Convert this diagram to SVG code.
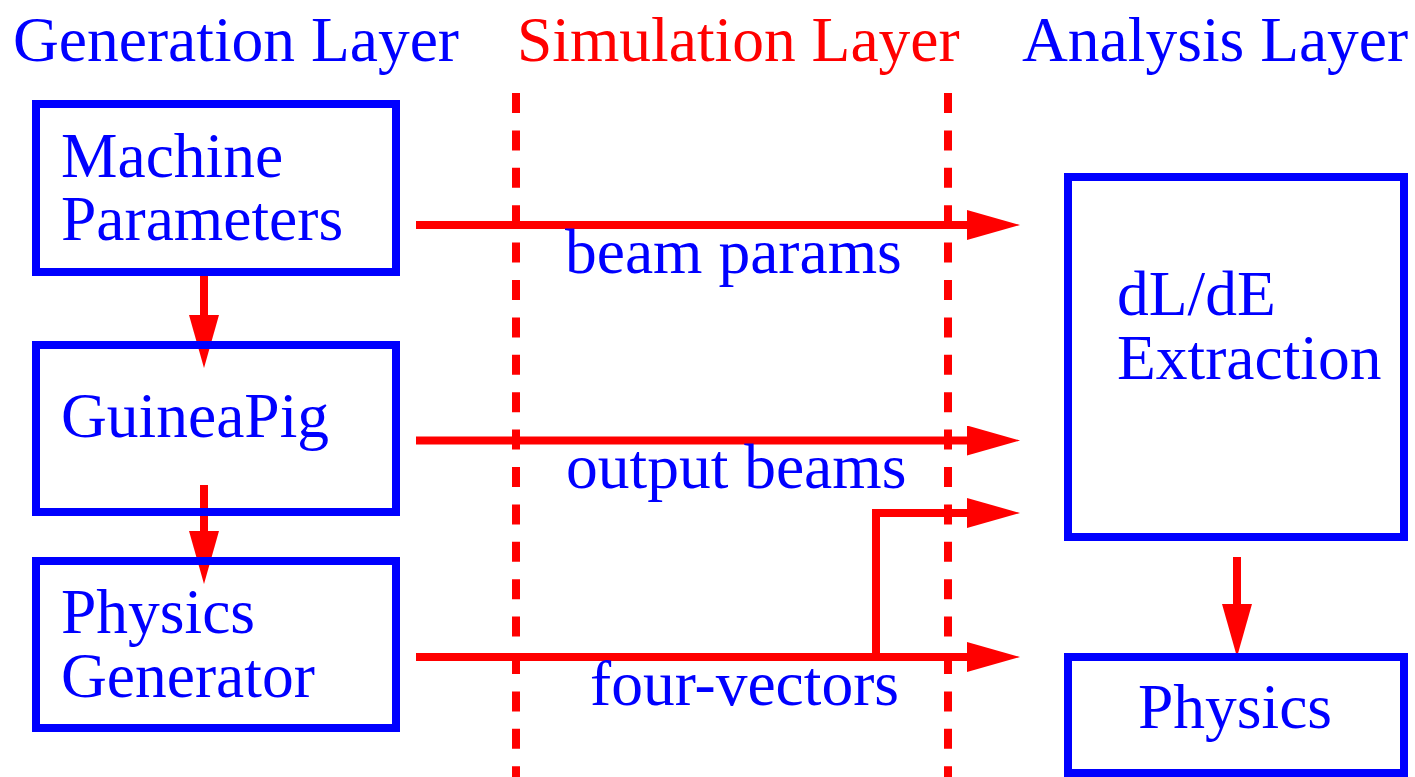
<svg xmlns="http://www.w3.org/2000/svg" width="1415" height="777" viewBox="0 0 1415 777">
<style>
text{font-family:"Liberation Serif","Times New Roman",serif;font-size:63.5px}
.b{fill:#0000ff}
.r{fill:#ff0000}
.box{fill:none;stroke:#0000ff;stroke-width:8}
.conn{fill:none;stroke:#ff0000;stroke-width:8}
.dash{fill:none;stroke:#ff0000;stroke-width:8;stroke-dasharray:20 17.4}
</style>
<defs>
<marker id="ah" markerUnits="userSpaceOnUse" viewBox="0 0 53 30" markerWidth="53" markerHeight="30" refX="0" refY="15" orient="auto">
<path d="M0,0 L53,15 L0,30 Z" fill="#ff0000"/>
</marker>
</defs>
<rect width="1415" height="777" fill="#ffffff"/>
<g id="headers">
<text class="b" x="13" y="61">Generation Layer</text>
<text class="r" x="517" y="61">Simulation Layer</text>
<text class="b" x="1022" y="61">Analysis Layer</text>
</g>
<g id="layer-lines">
<line class="dash" x1="516" y1="93" x2="516" y2="777"/>
<line class="dash" x1="948" y1="93" x2="948" y2="777"/>
</g>
<g id="connectors">
<line class="conn" x1="204" y1="269" x2="204" y2="315" marker-end="url(#ah)"/>
<line class="conn" x1="204" y1="485" x2="204" y2="531" marker-end="url(#ah)"/>
<line class="conn" x1="1237" y1="557" x2="1237" y2="604" marker-end="url(#ah)"/>
<line class="conn" x1="416" y1="225" x2="967" y2="225" marker-end="url(#ah)"/>
<line class="conn" x1="416" y1="440.5" x2="967" y2="440.5" marker-end="url(#ah)"/>
<line class="conn" x1="416" y1="657" x2="967" y2="657" marker-end="url(#ah)"/>
<polyline class="conn" points="876,657 876,513 967,513" marker-end="url(#ah)"/>
<text class="b" x="565" y="273">beam params</text>
<text class="b" x="566" y="488">output beams</text>
<text class="b" x="590" y="705">four-vectors</text>
</g>
<g id="machine-parameters">
<rect class="box" x="36" y="104" width="360" height="168"/>
<text class="b" x="61" y="177">Machine</text>
<text class="b" x="61" y="240">Parameters</text>
</g>
<g id="guineapig">
<rect class="box" x="36" y="345" width="360" height="167"/>
<text class="b" x="61" y="437">GuineaPig</text>
</g>
<g id="physics-generator">
<rect class="box" x="36" y="561" width="360" height="167"/>
<text class="b" x="61" y="633">Physics</text>
<text class="b" x="61" y="697">Generator</text>
</g>
<g id="dlde-extraction">
<rect class="box" x="1068" y="177" width="336" height="360"/>
<text class="b" x="1117" y="315">dL/dE</text>
<text class="b" x="1117" y="379">Extraction</text>
</g>
<g id="physics">
<rect class="box" x="1068" y="657" width="336" height="116"/>
<text class="b" x="1138" y="728">Physics</text>
</g>
</svg>
